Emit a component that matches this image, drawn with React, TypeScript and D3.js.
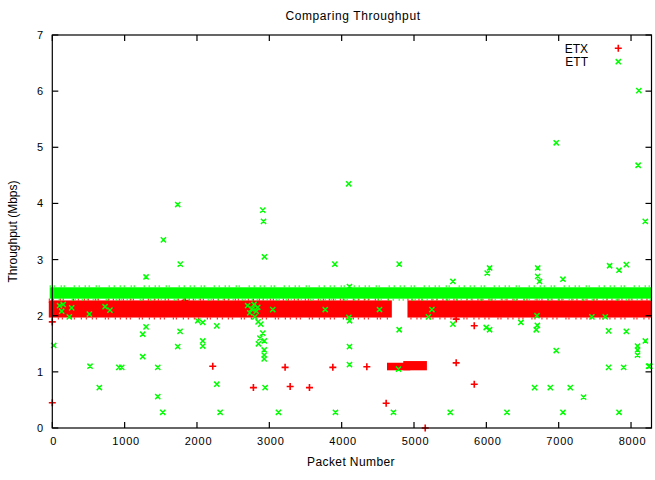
import React from 'react';
import * as d3 from 'd3';

const W = 655;
const H = 480;
const plot = { left: 52.3, right: 651.5, top: 35, bottom: 428 };

const title = 'Comparing Throughput';
const xLabel = 'Packet Number';
const yLabel = 'Throughput (Mbps)';
const seriesNames = ['ETX', 'ETT'];
const xTicks = [0, 1000, 2000, 3000, 4000, 5000, 6000, 7000, 8000];
const yTicks = [0, 1, 2, 3, 4, 5, 6, 7];
const xMax = 8283;
const yMax = 7;

// Packet ranges where samples are so dense they merge into a solid band:
// [first packet, last packet, lowest throughput, highest throughput]
const etxBands: [number, number, number, number][] = [
  [0, 4645, 2.03, 2.21],
  [4958, 8235, 2.03, 2.21],
  [4675, 4900, 1.09, 1.1],
  [4900, 5130, 1.09, 1.13],
];
const ettBands: [number, number, number, number][] = [
  [0, 8250, 2.35, 2.46],
];

// Isolated samples: [packet, throughput]
const etxPoints: [number, number][] = [
  [0, 1.89], [0, 0.45], [2218, 1.1], [2780, 0.72], [3218, 1.08], [3288, 0.74],
  [3555, 0.72], [3878, 1.08], [4348, 1.09], [4615, 0.44], [5155, 0.0],
  [5583, 1.16], [5583, 1.94], [5833, 1.82], [5833, 0.78], [0, 2.24], [1835, 2.27],
];
const ettPoints: [number, number][] = [
  [20, 1.47], [100, 2.18], [130, 2.08], [150, 2.2], [235, 1.98], [268, 2.14],
  [512, 2.03], [521, 1.1], [650, 0.72], [729, 2.16], [798, 2.1], [920, 1.08],
  [960, 1.08], [1250, 1.27], [1250, 1.67], [1296, 1.8], [1296, 2.69], [1458, 1.08],
  [1458, 0.56], [1527, 0.28], [1536, 3.35], [1734, 3.98], [1734, 1.45], [1766, 1.72],
  [1769, 2.92], [2011, 1.91], [2080, 1.88], [2080, 1.55], [2080, 1.46], [2274, 1.82],
  [2274, 0.78], [2320, 0.28], [2700, 2.18], [2730, 2.05], [2760, 2.12], [2790, 2.2],
  [2820, 2.08], [2840, 2.15], [2800, 1.98], [2845, 1.89], [2883, 1.85], [2910, 1.69],
  [2870, 1.6], [2930, 1.55], [2850, 1.5], [2929, 1.39], [2929, 1.3], [2929, 1.23],
  [2942, 0.72], [2910, 3.88], [2920, 3.68], [2933, 3.05], [3048, 2.11], [3126, 0.28],
  [3772, 2.11], [3906, 2.92], [3914, 0.28], [4097, 4.35], [4108, 2.52], [4100, 1.97],
  [4110, 1.91], [4108, 1.45], [4108, 1.13], [4523, 2.11], [4716, 0.28], [4786, 1.05],
  [4795, 2.92], [4795, 1.75], [5200, 1.98], [5248, 2.11], [5501, 0.28], [5538, 2.61],
  [5538, 1.85], [5998, 1.79], [6012, 2.76], [6045, 2.85], [6045, 1.75], [6285, 0.28],
  [6478, 1.88], [6667, 0.72], [6700, 2.0], [6710, 2.85], [6710, 2.7], [6735, 2.61],
  [6705, 1.83], [6690, 1.75], [6884, 0.72], [6966, 5.08], [6966, 1.38], [7059, 2.65],
  [7059, 0.28], [7160, 0.72], [7344, 0.55], [7459, 1.98], [7643, 1.98], [7690, 1.73],
  [7690, 1.08], [7704, 2.89], [7834, 2.81], [7834, 0.28], [7898, 1.08], [7935, 2.91],
  [7935, 1.72], [8090, 1.46], [8090, 1.39], [8090, 1.3], [8098, 4.68], [8108, 6.01],
  [8197, 3.68], [8198, 1.55], [8243, 1.1], [8260, 1.1],
];

const RED = '#ff0000';
const GREEN = '#00ff00';
const FONT = '"Liberation Sans", Arial, Helvetica, sans-serif';
const PLUS = 3.5;
const CROSS = 2.6;

const xs = d3.scaleLinear().domain([0, xMax]).range([plot.left, plot.right]);
const ys = d3.scaleLinear().domain([0, yMax]).range([plot.bottom, plot.top]);

const plusPath = (x: number, y: number, r = PLUS) =>
  `M${x - r},${y}H${x + r}M${x},${y - r}V${y + r}`;
const crossPath = (x: number, y: number, r = CROSS) =>
  `M${x - r},${y - r}L${x + r},${y + r}M${x - r},${y + r}L${x + r},${y - r}`;

function Band({ band, color, half, fringe }: { band: [number, number, number, number]; color: string; half: number; fringe: boolean }) {
  const [s, e, lo, hi] = band;
  const x0 = xs(s) - half;
  const x1 = xs(e) + half;
  const y0 = ys(hi) - half;
  const y1 = ys(lo) + half;
  return (
    <g>
      <rect x={x0} y={y0} width={x1 - x0} height={y1 - y0} fill={color} />
      {fringe && (
        <>
          <line x1={x0} x2={x1} y1={y0 - 1} y2={y0 - 1} stroke={color} strokeWidth={2}
            strokeDasharray="1 3 1 6 1 2 1 9 1 4 1 5" />
          <line x1={x0 + 3} x2={x1} y1={y1 + 1} y2={y1 + 1} stroke={color} strokeWidth={2}
            strokeDasharray="1 5 1 3 1 8 1 2 1 6 1 4" />
        </>
      )}
    </g>
  );
}

export default function App() {
  const tick = 6;
  return (
    <svg width={W} height={H} style={{ position: 'absolute', left: 0, top: 0, background: '#fff' }}
      fontFamily={FONT}>
      <rect width={W} height={H} fill="#fff" />

      {/* ETX series */}
      <g>
        {etxBands.map((b, i) => (
          <Band key={i} band={b} color={RED} half={PLUS} fringe={i < 2} />
        ))}
        <path d={etxPoints.map(([p, v]) => plusPath(xs(p), ys(v))).join('')}
          stroke={RED} strokeWidth={1.6} fill="none" />
      </g>

      {/* ETT series */}
      <g>
        {ettBands.map((b, i) => (
          <Band key={i} band={b} color={GREEN} half={CROSS} fringe />
        ))}
        <path d={ettPoints.map(([p, v]) => crossPath(xs(p), ys(v))).join('')}
          stroke={GREEN} strokeWidth={1.5} fill="none" />
      </g>

      {/* frame and mirrored ticks */}
      <rect x={plot.left} y={plot.top} width={plot.right - plot.left} height={plot.bottom - plot.top}
        fill="none" stroke="#000" strokeWidth={1.2} />
      {xTicks.map((t) => (
        <g key={`x${t}`}>
          <line x1={xs(t)} x2={xs(t)} y1={plot.bottom} y2={plot.bottom - tick} stroke="#000" strokeWidth={1.2} />
          <line x1={xs(t)} x2={xs(t)} y1={plot.top} y2={plot.top + tick} stroke="#000" strokeWidth={1.2} />
          <text x={xs(t) + 1.5} y={445} textAnchor="middle" fontSize={11} letterSpacing={0.8}>{t}</text>
        </g>
      ))}
      {yTicks.map((t) => (
        <g key={`y${t}`}>
          <line x1={plot.left} x2={plot.left + tick} y1={ys(t)} y2={ys(t)} stroke="#000" strokeWidth={1.2} />
          <line x1={plot.right} x2={plot.right - tick} y1={ys(t)} y2={ys(t)} stroke="#000" strokeWidth={1.2} />
          <text x={43} y={ys(t) + 4} textAnchor="end" fontSize={11}>{t}</text>
        </g>
      ))}

      {/* titles */}
      <text x={353} y={19.5} textAnchor="middle" fontSize={12} letterSpacing={0.6}>{title}</text>
      <text x={351} y={466} textAnchor="middle" fontSize={12} letterSpacing={0.4}>{xLabel}</text>
      <text transform={`translate(17,231.5) rotate(-90)`} textAnchor="middle" fontSize={12}>{yLabel}</text>

      {/* key */}
      <text x={588} y={53} textAnchor="end" fontSize={12}>{seriesNames[0]}</text>
      <path d={plusPath(618.3, 48.3)} stroke={RED} strokeWidth={1.6} />
      <text x={588} y={65.5} textAnchor="end" fontSize={12}>{seriesNames[1]}</text>
      <path d={crossPath(618.3, 61.7)} stroke={GREEN} strokeWidth={1.5} />
    </svg>
  );
}
